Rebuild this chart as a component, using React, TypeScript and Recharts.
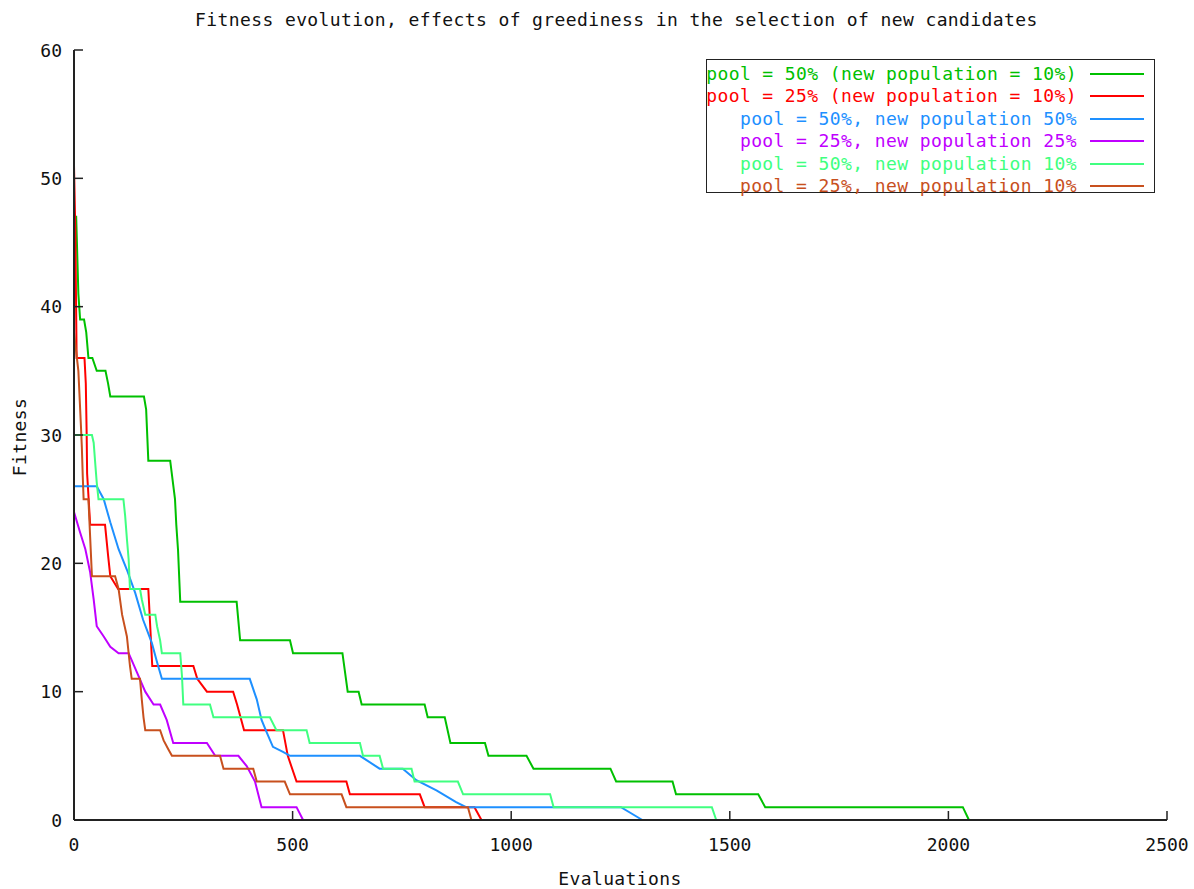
import React from "react";
import { LineChart, Line, XAxis, YAxis, Legend } from "recharts";

// [evaluations, fitness]
const pool50new10: number[][] = [
  [0, 47], [5, 47], [10, 41], [14, 39], [23, 39], [28, 38], [33, 36], [42, 36], [52, 35], [72, 35],
  [78, 34], [83, 33], [160, 33], [165, 32], [170, 28], [220, 28], [231, 25], [234, 23], [238, 21],
  [243, 17], [372, 17], [380, 14], [494, 14], [501, 13], [614, 13], [626, 10], [651, 10], [658, 9],
  [802, 9], [809, 8], [848, 8], [861, 6], [940, 6], [948, 5], [1035, 5], [1051, 4], [1227, 4],
  [1240, 3], [1369, 3], [1377, 2], [1565, 2], [1581, 1], [2033, 1], [2047, 0],
];
const pool25new10: number[][] = [
  [0, 51], [3, 46], [6, 36], [24, 36], [27, 34], [29, 30], [30, 27], [37, 23], [71, 23], [78, 20.6],
  [83, 19], [101, 18], [170, 18], [179, 12], [273, 12], [282, 11], [304, 10], [364, 10], [373, 9],
  [389, 7], [478, 7], [489, 5], [509, 3], [623, 3], [631, 2], [791, 2], [802, 1], [916, 1], [932, 0],
];
const pool50new50: number[][] = [
  [0, 26], [52, 26], [68, 25], [83, 23.2], [102, 21.1], [121, 19.5], [140, 17.7], [158, 15.6],
  [178, 13.8], [190, 12.3], [201, 11], [402, 11], [418, 9.4], [429, 7.8], [441, 6.8], [455, 5.7],
  [478, 5.3], [494, 5], [654, 5], [699, 4], [752, 4], [783, 3.1], [829, 2.3], [874, 1.4], [897, 1],
  [1251, 1], [1300, 0],
];
const pool25new25: number[][] = [
  [0, 24], [14, 22.4], [26, 21.1], [37, 19.3], [45, 17.2], [52, 15.1], [68, 14.3], [83, 13.5],
  [102, 13], [125, 13], [144, 11.5], [163, 10], [182, 9], [197, 9], [212, 7.8], [227, 6], [304, 6],
  [323, 5], [376, 5], [395, 4.2], [414, 3], [429, 1], [509, 1], [524, 0],
];
const pool50new10b: number[][] = [
  [0, 30], [41, 30], [45, 29.4], [49, 27.6], [52, 26.3], [56, 25], [113, 25], [117, 23.7], [121, 21.9],
  [125, 20.3], [128, 18], [151, 18], [155, 17.2], [163, 16], [186, 16], [190, 15.1], [197, 14],
  [201, 13], [243, 13], [247, 11.2], [250, 9], [311, 9], [319, 8], [448, 8], [463, 7], [532, 7],
  [539, 6], [654, 6], [661, 5], [699, 5], [707, 4], [772, 4], [779, 3], [878, 3], [890, 2], [1089, 2],
  [1097, 1], [1459, 1], [1469, 0],
];
const pool25new10b: number[][] = [
  [0, 38], [10, 35], [16, 30.6], [18, 29], [20, 26.8], [22, 25], [33, 25], [41, 19], [94, 19],
  [102, 18], [110, 16], [121, 14.3], [128, 12], [132, 11], [151, 11], [155, 9.4], [159, 8], [163, 7],
  [197, 7], [205, 6.2], [216, 5.5], [224, 5], [334, 5], [342, 4], [410, 4], [418, 3], [482, 3],
  [494, 2], [612, 2], [623, 1], [901, 1], [909, 0],
];

const seriesNames = [
  "pool = 50% (new population = 10%)",
  "pool = 25% (new population = 10%)",
  "pool = 50%, new population 50%",
  "pool = 25%, new population 25%",
  "pool = 50%, new population 10%",
  "pool = 25%, new population 10%",
];
const seriesColors = ["#00c000", "#ff0000", "#1e90ff", "#c000ff", "#40ff80", "#c8501e"];
const seriesData = [pool50new10, pool25new10, pool50new50, pool25new25, pool50new10b, pool25new10b];

const xTicks = [0, 500, 1000, 1500, 2000, 2500];
const yTicks = [0, 10, 20, 30, 40, 50, 60];

const FONT = "'DejaVu Sans Mono', monospace";
const AXIS = "#222";
const SPACING = 0.4;

const toRows = (pts: number[][]) => pts.map(([e, f]) => ({ e, f }));

const YTick = (props: any) => {
  const { x, y, payload } = props;
  return (
    <g>
      <line x1={x + 12} x2={x + 21} y1={y} y2={y} stroke={AXIS} strokeWidth={1.5} />
      <text x={x} y={y} textAnchor="end" dominantBaseline="central" fontFamily={FONT} fontSize={18} fill="#111">
        {payload.value}
      </text>
    </g>
  );
};

const XTick = (props: any) => {
  const { x, y, payload } = props;
  return (
    <g>
      <line x1={x} x2={x} y1={y - 24} y2={y - 33} stroke={AXIS} strokeWidth={1.5} />
      <text x={x} y={y} textAnchor="middle" dominantBaseline="central" fontFamily={FONT} fontSize={18} fill="#111">
        {payload.value}
      </text>
    </g>
  );
};

const XTitle = () => (
  <text x={620} y={878} textAnchor="middle" dominantBaseline="central" fontFamily={FONT} fontSize={18} fill="#111" letterSpacing={SPACING}>
    Evaluations
  </text>
);

const YTitle = () => (
  <text
    x={19}
    y={437}
    transform="rotate(-90 19 437)"
    textAnchor="middle"
    dominantBaseline="central"
    fontFamily={FONT}
    fontSize={18}
    fill="#111"
    letterSpacing={SPACING}
  >
    Fitness
  </text>
);

const LegendBox = () => (
  <div
    style={{
      border: `1.5px solid ${AXIS}`,
      width: 449,
      height: 134,
      boxSizing: "border-box",
      background: "#fff",
      paddingTop: 3,
      fontFamily: FONT,
      fontSize: 18,
      letterSpacing: SPACING,
    }}
  >
    {seriesNames.map((name, i) => (
      <div key={name} style={{ position: "relative", height: 22.4 }}>
        <span
          style={{
            position: "absolute",
            right: 77,
            top: 0,
            lineHeight: "22.4px",
            whiteSpace: "pre",
            color: seriesColors[i],
          }}
        >
          {name}
        </span>
        <div
          style={{
            position: "absolute",
            right: 10,
            top: 10,
            width: 54,
            height: 2,
            background: seriesColors[i],
          }}
        />
      </div>
    ))}
  </div>
);

export default function App() {
  return (
    <div style={{ position: "absolute", top: 0, left: 0, width: 1194, height: 889, background: "#fff" }}>
      <div
        style={{
          position: "absolute",
          top: 9,
          left: 195,
          fontFamily: FONT,
          fontSize: 18,
          letterSpacing: SPACING,
          color: "#111",
          whiteSpace: "pre",
          zIndex: 2,
        }}
      >
        Fitness evolution, effects of greediness in the selection of new candidates
      </div>
      <LineChart width={1194} height={889} margin={{ top: 50, right: 27, left: 0, bottom: 0 }}>
        <XAxis
          dataKey="e"
          type="number"
          domain={[0, 2500]}
          ticks={xTicks}
          interval={0}
          height={69}
          tickSize={0}
          tickMargin={24}
          tick={<XTick />}
          axisLine={{ stroke: AXIS, strokeWidth: 2 }}
          label={<XTitle />}
        />
        <YAxis
          dataKey="f"
          type="number"
          domain={[0, 60]}
          ticks={yTicks}
          interval={0}
          width={74}
          tickSize={0}
          tickMargin={12}
          tick={<YTick />}
          axisLine={{ stroke: AXIS, strokeWidth: 2 }}
          label={<YTitle />}
        />
        <Legend
          layout="vertical"
          align="center"
          verticalAlign="middle"
          content={<LegendBox />}
          wrapperStyle={{ top: 59, left: 706, width: 449, height: 134, margin: 0 }}
        />
        {seriesData.map((pts, i) => (
          <Line
            key={seriesNames[i]}
            data={toRows(pts)}
            dataKey="f"
            name={seriesNames[i]}
            type="linear"
            stroke={seriesColors[i]}
            strokeWidth={2}
            dot={false}
            activeDot={false}
            isAnimationActive={false}
          />
        ))}
      </LineChart>
    </div>
  );
}
